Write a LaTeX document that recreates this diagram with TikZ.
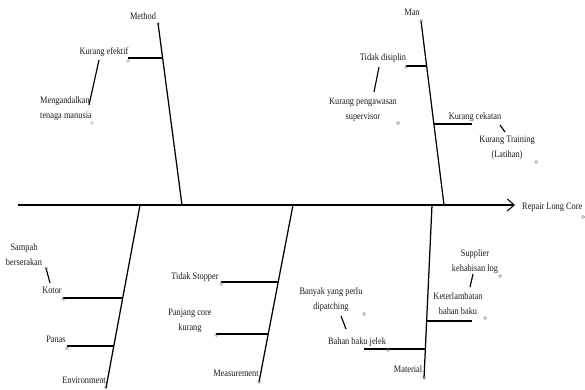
\documentclass[tikz,border=0pt]{standalone}
\usepackage{fontspec}
\setmainfont{Liberation Serif}[FakeStretch=0.85]
\usetikzlibrary{arrows.meta}

\tikzset{
  bone/.style={line width=1.25pt},
  rib/.style={line width=1.15pt},
  cause/.style={font=\fontsize{9.8}{15}\selectfont,text=black!90,inner sep=0pt,align=center},
  handle/.style={draw=black!60,line width=0.35pt},
}

\begin{document}
\begin{tikzpicture}[x=1pt,y=-1pt]
        % \draw[help lines] grid(585,390);
        \useasboundingbox (0,0) rectangle (585,390);

        % spine
        \coordinate (tail) at (18,205);
        \coordinate (head) at (515,205);
        \draw[bone,-{Straight Barb[length=7pt,width=12pt,line width=1pt]}] (tail) -- (head);
        \node[cause,anchor=west] (effect) at (522,207) {Repair Long Core};

        % Method
        \coordinate (method top) at (158,23);
        \coordinate (method foot) at (182,205);
        \coordinate (efektif a) at (128,58);
        \coordinate (efektif b) at (162.6,58);
        \coordinate (tenaga a) at (99,60);
        \coordinate (tenaga b) at (89,105);
        \draw[bone] (method top) -- (method foot);
        \draw[rib] (efektif a) -- (efektif b);
        \draw[rib] (tenaga a) -- (tenaga b);
        \node[cause] (method) at (143,16) {Method};
        \node[cause] (efektif) at (104,52) {Kurang efektif};
        \node[cause,anchor=west,align=left] (tenaga) at (40,109) {Mengandalkan\\tenaga manusia};

        % Man
        \coordinate (man top) at (421,21);
        \coordinate (man foot) at (444,205);
        \coordinate (disiplin a) at (406,66);
        \coordinate (disiplin b) at (426.6,66);
        \coordinate (pengawasan a) at (379,67);
        \coordinate (pengawasan b) at (374,92);
        \coordinate (cekatan a) at (433.9,124);
        \coordinate (cekatan b) at (472,124);
        \coordinate (training a) at (500,125);
        \coordinate (training b) at (505,132);
        \draw[bone] (man top) -- (man foot);
        \draw[rib] (disiplin a) -- (disiplin b);
        \draw[rib] (pengawasan a) -- (pengawasan b);
        \draw[rib] (cekatan a) -- (cekatan b);
        \draw[rib] (training a) -- (training b);
        \node[cause] (man) at (412,12) {Man};
        \node[cause] (disiplin) at (383,58) {Tidak disiplin};
        \node[cause] (pengawasan) at (363,110) {Kurang pengawasan\\supervisor};
        \node[cause] (cekatan) at (475,117) {Kurang cekatan};
        \node[cause] (training) at (507,148) {Kurang Training\\(Latihan)};

        % Environment
        \coordinate (env top) at (140,205);
        \coordinate (env foot) at (106,388);
        \coordinate (kotor a) at (63,298);
        \coordinate (kotor b) at (122.7,298);
        \coordinate (sampah a) at (46,268);
        \coordinate (sampah b) at (50,283);
        \coordinate (panas a) at (67,346);
        \coordinate (panas b) at (113.8,346);
        \draw[bone] (env top) -- (env foot);
        \draw[rib] (kotor a) -- (kotor b);
        \draw[rib] (sampah a) -- (sampah b);
        \draw[rib] (panas a) -- (panas b);
        \node[cause] (sampah) at (24,255) {Sampah\\berserakan};
        \node[cause] (kotor) at (52,290) {Kotor};
        \node[cause] (panas) at (56,339) {Panas};
        \node[cause] (env) at (84,380) {Environment};

        % Measurement
        \coordinate (meas top) at (293,205);
        \coordinate (meas foot) at (259,382);
        \coordinate (stopper a) at (221,282);
        \coordinate (stopper b) at (278.2,282);
        \coordinate (panjang a) at (216,334);
        \coordinate (panjang b) at (268.2,334);
        \draw[bone] (meas top) -- (meas foot);
        \draw[rib] (stopper a) -- (stopper b);
        \draw[rib] (panjang a) -- (panjang b);
        \node[cause] (stopper) at (195,277) {Tidak Stopper};
        \node[cause] (panjang) at (190,321) {Panjang core\\kurang};
        \node[cause] (meas) at (236,373) {Measurement};

        % Material
        \coordinate (mat top) at (432,205);
        \coordinate (mat foot) at (424,378);
        \coordinate (lambat a) at (426.6,321);
        \coordinate (lambat b) at (472,321);
        \coordinate (supplier a) at (473,274);
        \coordinate (supplier b) at (470,287);
        \coordinate (jelek a) at (364,349);
        \coordinate (jelek b) at (425.3,349);
        \coordinate (patching a) at (341,316);
        \coordinate (patching b) at (346,329);
        \draw[bone] (mat top) -- (mat foot);
        \draw[rib] (lambat a) -- (lambat b);
        \draw[rib] (supplier a) -- (supplier b);
        \draw[rib] (jelek a) -- (jelek b);
        \draw[rib] (patching a) -- (patching b);
        \node[cause] (supplier) at (475,262) {Supplier\\kehabisan log};
        \node[cause] (lambat) at (458,304) {Keterlambatan\\bahan baku};
        \node[cause] (patching) at (331,300) {Banyak yang perlu\\dipatching};
        \node[cause] (jelek) at (357,342) {Bahan baku jelek};
        \node[cause] (mat) at (408,369) {Material};

        % small handles
        \foreach \p in {(158,24),(128,61),(92,123),(421,21),(406,67),(398,123),(536,162),(583,217),
                        (106,387),(63,299),(46,268),(67,348),(259,382),(221,284),(216,335),
                        (424,378),(485,318),(500,276),(388,350),(364,314)}
            \draw[handle] \p circle(1.5);
    \end{tikzpicture}
\end{document}
